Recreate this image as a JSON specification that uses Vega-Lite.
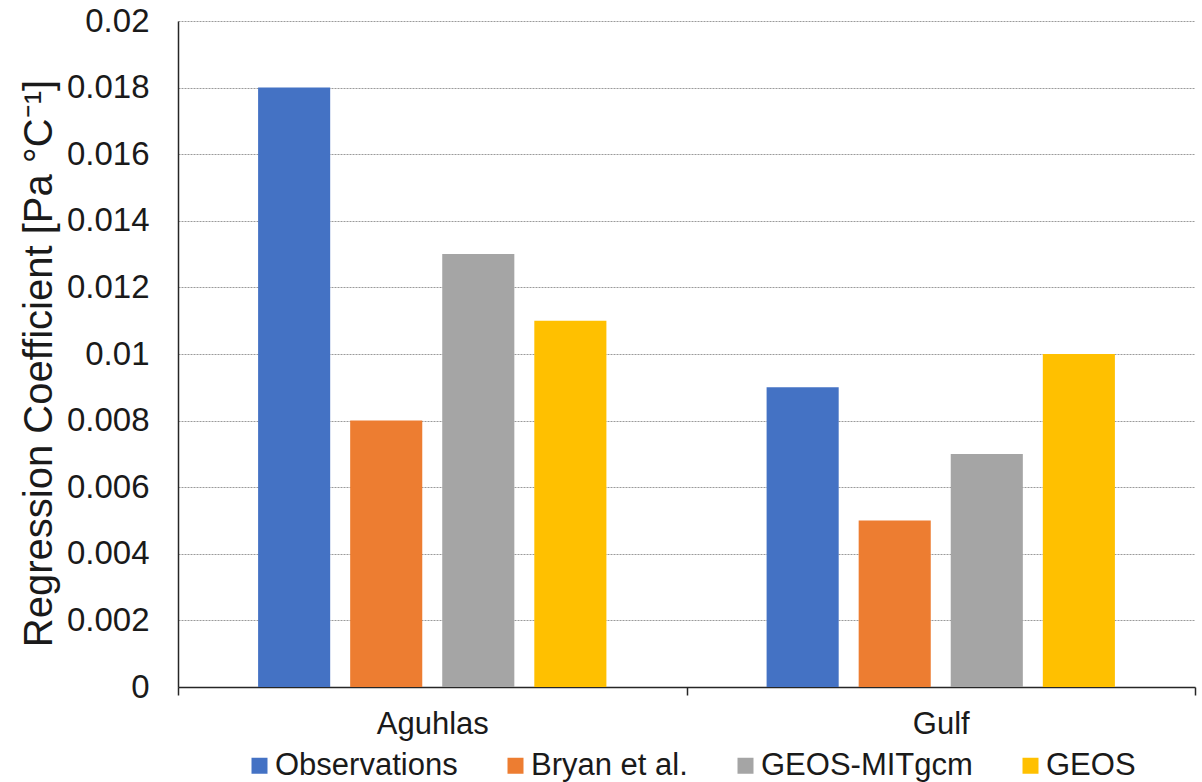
{
  "$schema": "https://vega.github.io/schema/vega-lite/v6.json",
  "width": 1017,
  "height": 666,
  "autosize": {"type": "none"},
  "padding": {"left": 178, "top": 21, "right": 7, "bottom": 95},
  "background": "white",
  "config": {
    "font": "Liberation Sans",
    "view": {"stroke": null}
  },
  "data": {
    "values": [
      {"region": "Aguhlas", "series": "Observations", "value": 0.018},
      {"region": "Aguhlas", "series": "Bryan et al.", "value": 0.008},
      {"region": "Aguhlas", "series": "GEOS-MITgcm", "value": 0.013},
      {"region": "Aguhlas", "series": "GEOS", "value": 0.011},
      {"region": "Gulf", "series": "Observations", "value": 0.009},
      {"region": "Gulf", "series": "Bryan et al.", "value": 0.005},
      {"region": "Gulf", "series": "GEOS-MITgcm", "value": 0.007},
      {"region": "Gulf", "series": "GEOS", "value": 0.010}
    ]
  },
  "mark": {"type": "bar"},
  "encoding": {
    "x": {
      "field": "region",
      "type": "nominal",
      "sort": ["Aguhlas", "Gulf"],
      "scale": {"paddingInner": 0, "paddingOuter": 0},
      "axis": {
        "title": null,
        "labelAngle": 0,
        "labelFontSize": 31,
        "labelColor": "#1a1a1a",
        "labelPadding": 14,
        "tickBand": "extent",
        "tickSize": 8,
        "tickColor": "#262626",
        "tickWidth": 1.5,
        "domainColor": "#262626",
        "domainWidth": 1.5,
        "grid": false
      }
    },
    "xOffset": {
      "field": "series",
      "type": "nominal",
      "sort": ["Observations", "Bryan et al.", "GEOS-MITgcm", "GEOS"],
      "scale": {"paddingInner": 0.217, "paddingOuter": 0.87}
    },
    "y": {
      "field": "value",
      "type": "quantitative",
      "scale": {"domain": [0, 0.02], "nice": false},
      "axis": {
        "title": "Regression Coefficient [Pa °C⁻¹]",
        "titleFontSize": 40,
        "titleFontWeight": "normal",
        "titleColor": "#1a1a1a",
        "titlePadding": 7,
        "titleY": 342,
        "values": [0, 0.002, 0.004, 0.006, 0.008, 0.01, 0.012, 0.014, 0.016, 0.018, 0.02],
        "format": "~g",
        "labelFontSize": 33,
        "labelColor": "#1a1a1a",
        "labelPadding": 29,
        "ticks": false,
        "domainColor": "#262626",
        "domainWidth": 1.5,
        "grid": true,
        "gridColor": "#9a9a9a",
        "gridDash": [2, 1],
        "gridWidth": 1
      }
    },
    "color": {
      "field": "series",
      "type": "nominal",
      "sort": ["Observations", "Bryan et al.", "GEOS-MITgcm", "GEOS"],
      "scale": {
        "domain": ["Observations", "Bryan et al.", "GEOS-MITgcm", "GEOS"],
        "range": ["#4472C4", "#ED7D31", "#A5A5A5", "#FFC000"]
      },
      "legend": {
        "title": null,
        "orient": "none",
        "direction": "horizontal",
        "legendX": 66,
        "legendY": 729,
        "symbolType": "square",
        "symbolSize": 256,
        "symbolStrokeWidth": 0,
        "symbolOpacity": 1,
        "labelFontSize": 31,
        "labelColor": "#1a1a1a",
        "labelOffset": 0,
        "columnPadding": 42,
        "labelLimit": 400
      }
    }
  }
}
